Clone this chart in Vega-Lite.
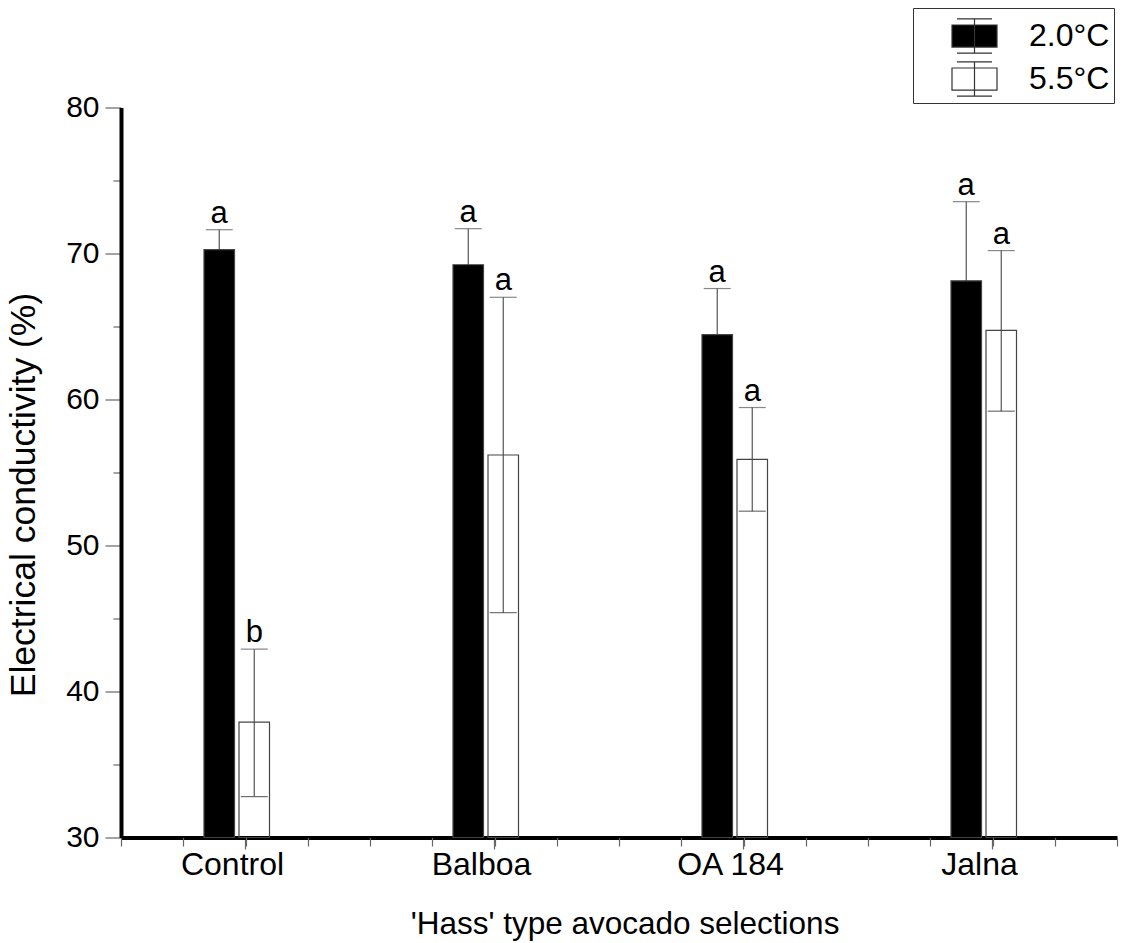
{
  "$schema": "https://vega.github.io/schema/vega-lite/v6.json",
  "width": 996,
  "height": 730,
  "autosize": {"type": "none"},
  "padding": {"left": 121, "top": 107.5, "right": 9, "bottom": 105.5},
  "background": "white",
  "config": {"view": {"stroke": null}, "font": "Liberation Sans"},
  "data": {"values": [
    {"selection": "Control", "temp": "2.0°C", "mean": 70.26, "lo": 68.9, "hi": 71.63, "letter": "a"},
    {"selection": "Control", "temp": "5.5°C", "mean": 37.9, "lo": 32.8, "hi": 42.9, "letter": "b"},
    {"selection": "Balboa", "temp": "2.0°C", "mean": 69.23, "lo": 66.8, "hi": 71.7, "letter": "a"},
    {"selection": "Balboa", "temp": "5.5°C", "mean": 56.2, "lo": 45.4, "hi": 67.0, "letter": "a"},
    {"selection": "OA 184", "temp": "2.0°C", "mean": 64.45, "lo": 61.3, "hi": 67.6, "letter": "a"},
    {"selection": "OA 184", "temp": "5.5°C", "mean": 55.9, "lo": 52.35, "hi": 59.45, "letter": "a"},
    {"selection": "Jalna", "temp": "2.0°C", "mean": 68.13, "lo": 62.7, "hi": 73.55, "letter": "a"},
    {"selection": "Jalna", "temp": "5.5°C", "mean": 64.73, "lo": 59.2, "hi": 70.2, "letter": "a"}
  ]},
  "layer": [
    {
      "encoding": {
        "x": {
          "field": "selection", "type": "nominal",
          "sort": ["Control", "Balboa", "OA 184", "Jalna"],
          "scale": {"paddingInner": 0.598, "paddingOuter": 0.299},
          "axis": {
            "title": "'Hass' type avocado selections",
            "labelAngle": 0, "tickSize": 11.5, "tickColor": "#666", "tickWidth": 1.2,
            "domainColor": "black", "domainWidth": 4,
            "labelFontSize": 32, "labelColor": "black", "labelBaseline": "alphabetic",
            "labelPadding": 25, "labelOffset": -13,
            "titleFontSize": 31.5, "titleFontWeight": "normal", "titleColor": "black",
            "titleBaseline": "alphabetic", "titleX": 503.5, "titleY": 95.5
          }
        },
        "xOffset": {
          "field": "temp", "type": "nominal",
          "scale": {"domain": ["2.0°C", "5.5°C"], "paddingInner": 0.1286, "paddingOuter": 0.494, "align": 0.247}
        }
      },
      "layer": [
        {
          "mark": {"type": "rule", "color": "#555", "strokeWidth": 1.2},
          "encoding": {
            "y": {
              "field": "lo", "type": "quantitative",
              "title": "Electrical conductivity (%)",
              "scale": {"domain": [30, 80], "zero": false, "nice": false},
              "axis": {
                "values": [30, 35, 40, 45, 50, 55, 60, 65, 70, 75, 80],
                "tickSize": {"condition": {"test": "datum.value % 10 === 0", "value": 16}, "value": 8},
                "labelExpr": "datum.value % 10 === 0 ? datum.label : ''",
                "domainColor": "black", "domainWidth": 4,
                "tickColor": "#666", "tickWidth": 1.2,
                "labelFontSize": 30, "labelColor": "black", "labelPadding": 6,
                "grid": false,
                "titleFontSize": 35.5, "titleFontWeight": "normal", "titleColor": "black",
                "titleX": -87, "titleY": 387, "titleBaseline": "alphabetic", "titleAngle": 270, "titleAlign": "center"
              }
            },
            "y2": {"field": "hi"}
          }
        },
        {
          "mark": {"type": "tick", "color": "#555", "size": 27, "thickness": 1.2},
          "encoding": {"y": {"field": "hi", "type": "quantitative", "title": "Electrical conductivity (%)"}}
        },
        {
          "mark": {"type": "tick", "color": "#333", "size": 27, "thickness": 1.2},
          "encoding": {"y": {"field": "lo", "type": "quantitative", "title": "Electrical conductivity (%)"}}
        },
        {
          "mark": {"type": "bar", "stroke": "#444", "strokeWidth": 1.2},
          "encoding": {
            "y": {"field": "mean", "type": "quantitative", "title": "Electrical conductivity (%)"},
            "y2": {"datum": 30},
            "fill": {
              "field": "temp", "type": "nominal",
              "scale": {"domain": ["2.0°C", "5.5°C"], "range": ["black", "transparent"]},
              "legend": {
                "orient": "none", "legendX": 792, "legendY": -99.5, "title": null,
                "symbolType": "M-1,-0.49H1V0.49H-1Z M0,-0.76V0.76 M-0.78,-0.76H0.78 M-0.78,0.76H0.78",
                "symbolSize": 2025, "symbolStrokeColor": "#333", "symbolStrokeWidth": 1.2,
                "labelFontSize": 32, "labelColor": "black", "labelOffset": 31,
                "padding": 4.5, "symbolOffset": 33.5, "rowPadding": 0,
                "strokeColor": "#333", "fillColor": "white", "cornerRadius": 0
              }
            }
          }
        },
        {
          "mark": {"type": "text", "dy": -7, "baseline": "alphabetic", "fontSize": 31, "color": "black"},
          "encoding": {
            "y": {"field": "hi", "type": "quantitative", "title": "Electrical conductivity (%)"},
            "text": {"field": "letter"}
          }
        }
      ]
    },
    {
      "mark": {"type": "rule", "opacity": 0},
      "encoding": {
        "x": {
          "datum": 0, "type": "quantitative",
          "scale": {"domain": [0, 4], "nice": false, "zero": false},
          "axis": {
            "orient": "bottom",
            "values": [0, 0.25, 0.5, 0.75, 1, 1.25, 1.5, 1.75, 2, 2.25, 2.5, 2.75, 3, 3.25, 3.5, 3.75, 4],
            "labels": false, "domain": false, "grid": false, "title": null,
            "tickSize": 8.5, "tickColor": "#666", "tickWidth": 1.2
          }
        }
      }
    }
  ],
  "resolve": {"scale": {"x": "independent"}, "axis": {"x": "independent"}}
}
